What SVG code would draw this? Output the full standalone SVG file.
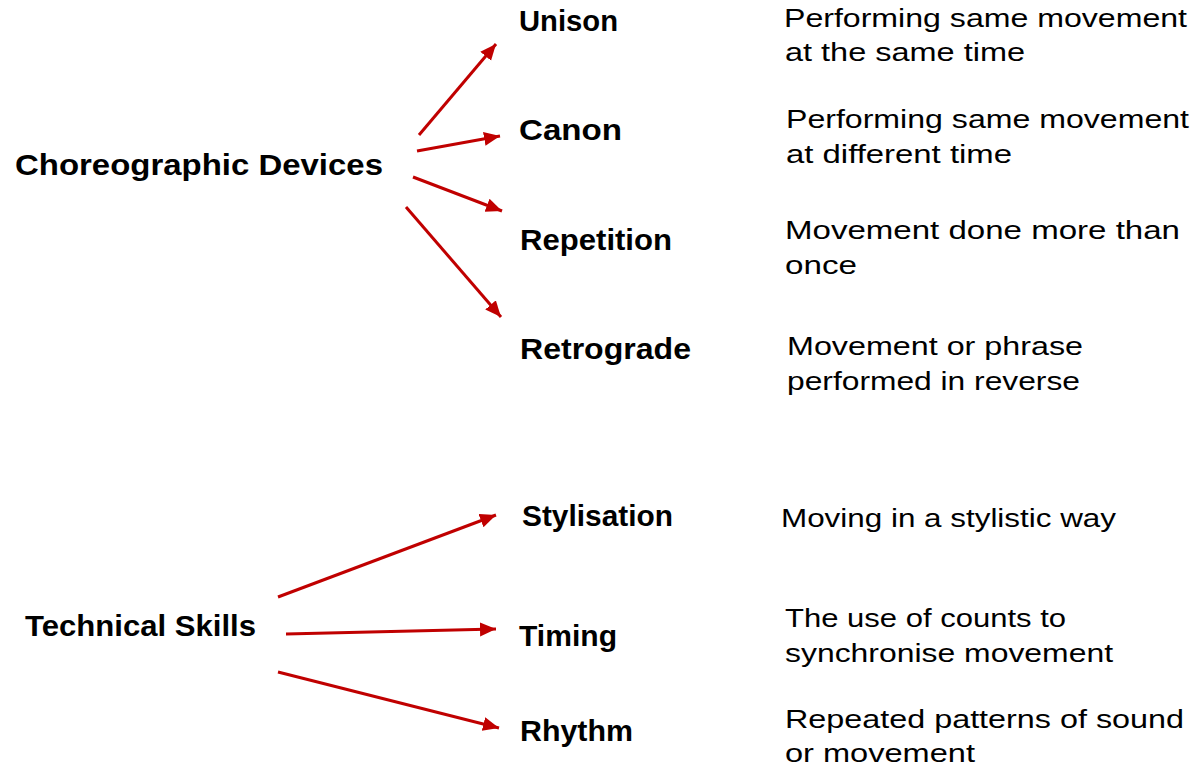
<svg xmlns="http://www.w3.org/2000/svg" width="1194" height="769" viewBox="0 0 1194 769">
<style>
.lbl{font-family:"Liberation Sans",Arial,sans-serif;font-weight:bold;font-size:30px;fill:#000}
.dsc{font-family:"Liberation Sans",Arial,sans-serif;font-size:26px;fill:#000}
.arr{stroke:#C00000;stroke-width:3;fill:none;marker-end:url(#ah)}
</style>
<defs>
<marker id="ah" markerUnits="userSpaceOnUse" markerWidth="18" markerHeight="16" refX="16" refY="7" orient="auto">
<path d="M0,0 L16,7 L0,14 z" fill="#C00000"/>
</marker>
</defs>
<rect width="1194" height="769" fill="#fff"/>
<g id="choreographic-devices"><text class="lbl" x="15" y="175" textLength="368" lengthAdjust="spacingAndGlyphs">Choreographic Devices</text></g>
<g id="unison"><text class="lbl" x="519" y="31" textLength="99" lengthAdjust="spacingAndGlyphs">Unison</text></g>
<g id="canon"><text class="lbl" x="519" y="140" textLength="103" lengthAdjust="spacingAndGlyphs">Canon</text></g>
<g id="repetition"><text class="lbl" x="520" y="250" textLength="152" lengthAdjust="spacingAndGlyphs">Repetition</text></g>
<g id="retrograde"><text class="lbl" x="520" y="359" textLength="171" lengthAdjust="spacingAndGlyphs">Retrograde</text></g>
<g id="technical-skills"><text class="lbl" x="25" y="636" textLength="231" lengthAdjust="spacingAndGlyphs">Technical Skills</text></g>
<g id="stylisation"><text class="lbl" x="522" y="526" textLength="151" lengthAdjust="spacingAndGlyphs">Stylisation</text></g>
<g id="timing"><text class="lbl" x="519" y="646" textLength="98" lengthAdjust="spacingAndGlyphs">Timing</text></g>
<g id="rhythm"><text class="lbl" x="520" y="741" textLength="113" lengthAdjust="spacingAndGlyphs">Rhythm</text></g>
<g id="desc-unison">
<text class="dsc" x="784" y="27" textLength="403" lengthAdjust="spacingAndGlyphs">Performing same movement</text>
<text class="dsc" x="785" y="61" textLength="240" lengthAdjust="spacingAndGlyphs">at the same time</text>
</g>
<g id="desc-canon">
<text class="dsc" x="786" y="128" textLength="403" lengthAdjust="spacingAndGlyphs">Performing same movement</text>
<text class="dsc" x="786" y="163" textLength="226" lengthAdjust="spacingAndGlyphs">at different time</text>
</g>
<g id="desc-repetition">
<text class="dsc" x="785" y="239" textLength="395" lengthAdjust="spacingAndGlyphs">Movement done more than</text>
<text class="dsc" x="785" y="274" textLength="72" lengthAdjust="spacingAndGlyphs">once</text>
</g>
<g id="desc-retrograde">
<text class="dsc" x="787" y="355" textLength="296" lengthAdjust="spacingAndGlyphs">Movement or phrase</text>
<text class="dsc" x="787" y="390" textLength="293" lengthAdjust="spacingAndGlyphs">performed in reverse</text>
</g>
<g id="desc-stylisation">
<text class="dsc" x="781" y="527" textLength="335" lengthAdjust="spacingAndGlyphs">Moving in a stylistic way</text>
</g>
<g id="desc-timing">
<text class="dsc" x="785" y="627" textLength="281" lengthAdjust="spacingAndGlyphs">The use of counts to</text>
<text class="dsc" x="785" y="662" textLength="328" lengthAdjust="spacingAndGlyphs">synchronise movement</text>
</g>
<g id="desc-rhythm">
<text class="dsc" x="785" y="728" textLength="399" lengthAdjust="spacingAndGlyphs">Repeated patterns of sound</text>
<text class="dsc" x="785" y="762" textLength="190" lengthAdjust="spacingAndGlyphs">or movement</text>
</g>
<g id="connectors">
<line class="arr" x1="419" y1="135" x2="496" y2="44"/>
<line class="arr" x1="417" y1="151" x2="500" y2="136"/>
<line class="arr" x1="413" y1="177" x2="502" y2="211"/>
<line class="arr" x1="406" y1="207" x2="501" y2="317"/>
<line class="arr" x1="278" y1="597" x2="496" y2="515"/>
<line class="arr" x1="286" y1="634" x2="496" y2="629"/>
<line class="arr" x1="278" y1="672" x2="499" y2="728"/>
</g>
</svg>
